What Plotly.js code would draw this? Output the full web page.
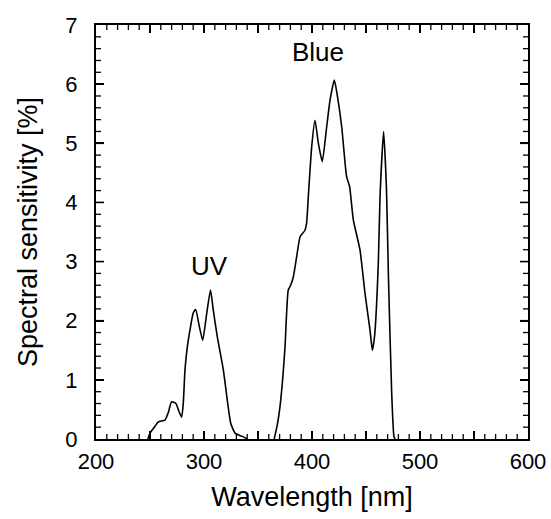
<!DOCTYPE html>
<html><head><meta charset="utf-8">
<script src="https://cdn.plot.ly/plotly-3.0.1.min.js"></script>
<style>body{margin:0;background:#fff}#c{width:551px;height:519px}</style>
</head><body><div id="c"></div>
<script>
var uvWavelength = [248, 250, 254, 257.7, 263.9, 267, 270, 274, 276.5, 279.3, 280.8, 282.4, 284.5, 287, 290, 292.3, 295.7, 298.8, 302.5, 306, 308.6, 312.3, 317.9, 324.7, 328.7, 333, 336, 340];
var uvSensitivity = [0, 0.1, 0.2, 0.29, 0.32, 0.45, 0.63, 0.6, 0.48, 0.37, 0.6, 1.17, 1.55, 1.84, 2.13, 2.19, 1.9, 1.67, 2.12, 2.52, 2.18, 1.73, 1.17, 0.27, 0.1, 0.06, 0.04, 0];
var blueWavelength = [365, 368, 370.4, 373, 375, 378, 380.2, 382.7, 385.8, 389, 393.5, 395, 396.6, 399.7, 402.8, 405.9, 409.5, 413.6, 416.7, 420.7, 423.5, 427.5, 432, 434.8, 438.3, 444.4, 449.1, 453.7, 455.9, 458, 461.4, 463, 466.3, 469, 470.7, 473.8, 475.9, 477];
var blueSensitivity = [0, 0.25, 0.55, 1.05, 1.55, 2.52, 2.6, 2.74, 3.08, 3.42, 3.53, 3.65, 4.1, 4.94, 5.39, 5.0, 4.69, 5.28, 5.73, 6.07, 5.8, 5.28, 4.44, 4.27, 3.7, 3.2, 2.46, 1.84, 1.5, 1.75, 2.97, 4.1, 5.2, 4.2, 2.8, 0.77, 0.04, 0];
var xTickVals = [200, 250, 300, 350, 400, 450, 500, 550, 600];
var xTickText = ['200', '', '300', '', '400', '', '500', '', '600'];
var peakLabels = ['UV', 'Blue'];
var labelX = [305, 406];
var labelY = [2.92, 6.55];

var font = 'Liberation Sans, Arial, Helvetica, sans-serif';
var lineStyle = {color: '#000', width: 1.6, shape: 'spline', smoothing: 0.5};
var traces = [
  {x: uvWavelength, y: uvSensitivity, mode: 'lines', line: lineStyle, showlegend: false, hoverinfo: 'skip'},
  {x: blueWavelength, y: blueSensitivity, mode: 'lines', line: lineStyle, showlegend: false, hoverinfo: 'skip'}
];

// Frame tick marks (decoration) on all four sides, drawn as pixel-sized shapes
var tickShapes = [];
function addXTick(v, len, w) {
  tickShapes.push({type: 'line', xref: 'x', yref: 'paper', ysizemode: 'pixel', yanchor: 0, x0: v, x1: v, y0: 0, y1: len, line: {color: '#000', width: w}, layer: 'above'});
  tickShapes.push({type: 'line', xref: 'x', yref: 'paper', ysizemode: 'pixel', yanchor: 1, x0: v, x1: v, y0: 0, y1: -len, line: {color: '#000', width: w}, layer: 'above'});
}
function addYTick(v, len, w) {
  tickShapes.push({type: 'line', xref: 'paper', yref: 'y', xsizemode: 'pixel', xanchor: 0, y0: v, y1: v, x0: 0, x1: len, line: {color: '#000', width: w}, layer: 'above'});
  tickShapes.push({type: 'line', xref: 'paper', yref: 'y', xsizemode: 'pixel', xanchor: 1, y0: v, y1: v, x0: 0, x1: -len, line: {color: '#000', width: w}, layer: 'above'});
}
for (var i = 1; i < 40; i++) {
  var xv = 200 + i * 10;
  if (i % 5 === 0) addXTick(xv, 8, 1.6); else addXTick(xv, 5, 1.3);
}
for (var j = 1; j < 35; j++) {
  var yv = j * 0.2;
  if (j % 5 === 0) addYTick(yv, 8, 1.6); else addYTick(yv, 5, 1.3);
}

var layout = {
  width: 551, height: 519,
  margin: {l: 96, r: 23, t: 25, b: 80},
  paper_bgcolor: '#fff', plot_bgcolor: '#fff',
  font: {family: font, color: '#000', size: 22},
  xaxis: {
    range: [200, 600], showgrid: false, zeroline: false,
    showline: true, linecolor: '#000', linewidth: 2, mirror: 'ticks',
    ticks: 'inside', ticklen: 8, tickwidth: 1.6, tickcolor: '#000',
    tickmode: 'array', tickvals: xTickVals, ticktext: xTickText,
    ticklabelstandoff: 2,
    tickfont: {size: 22, family: font},
    title: {text: 'Wavelength [nm]', font: {size: 27, family: font}, standoff: 14}
  },
  yaxis: {
    range: [0, 7], showgrid: false, zeroline: false,
    showline: true, linecolor: '#000', linewidth: 2, mirror: 'ticks',
    ticks: 'inside', ticklen: 8, tickwidth: 1.6, tickcolor: '#000',
    dtick: 1, tick0: 0,
    ticklabelstandoff: 12,
    tickfont: {size: 22, family: font},
    title: {text: 'Spectral sensitivity [%]', font: {size: 27, family: font}, standoff: 20}
  },
  shapes: tickShapes,
  annotations: peakLabels.map(function (t, i) {
    return {x: labelX[i], y: labelY[i], xref: 'x', yref: 'y', text: t, showarrow: false, font: {size: 26, family: font, color: '#000'}};
  })
};
Plotly.newPlot('c', traces, layout, {staticPlot: true});
</script></body></html>
